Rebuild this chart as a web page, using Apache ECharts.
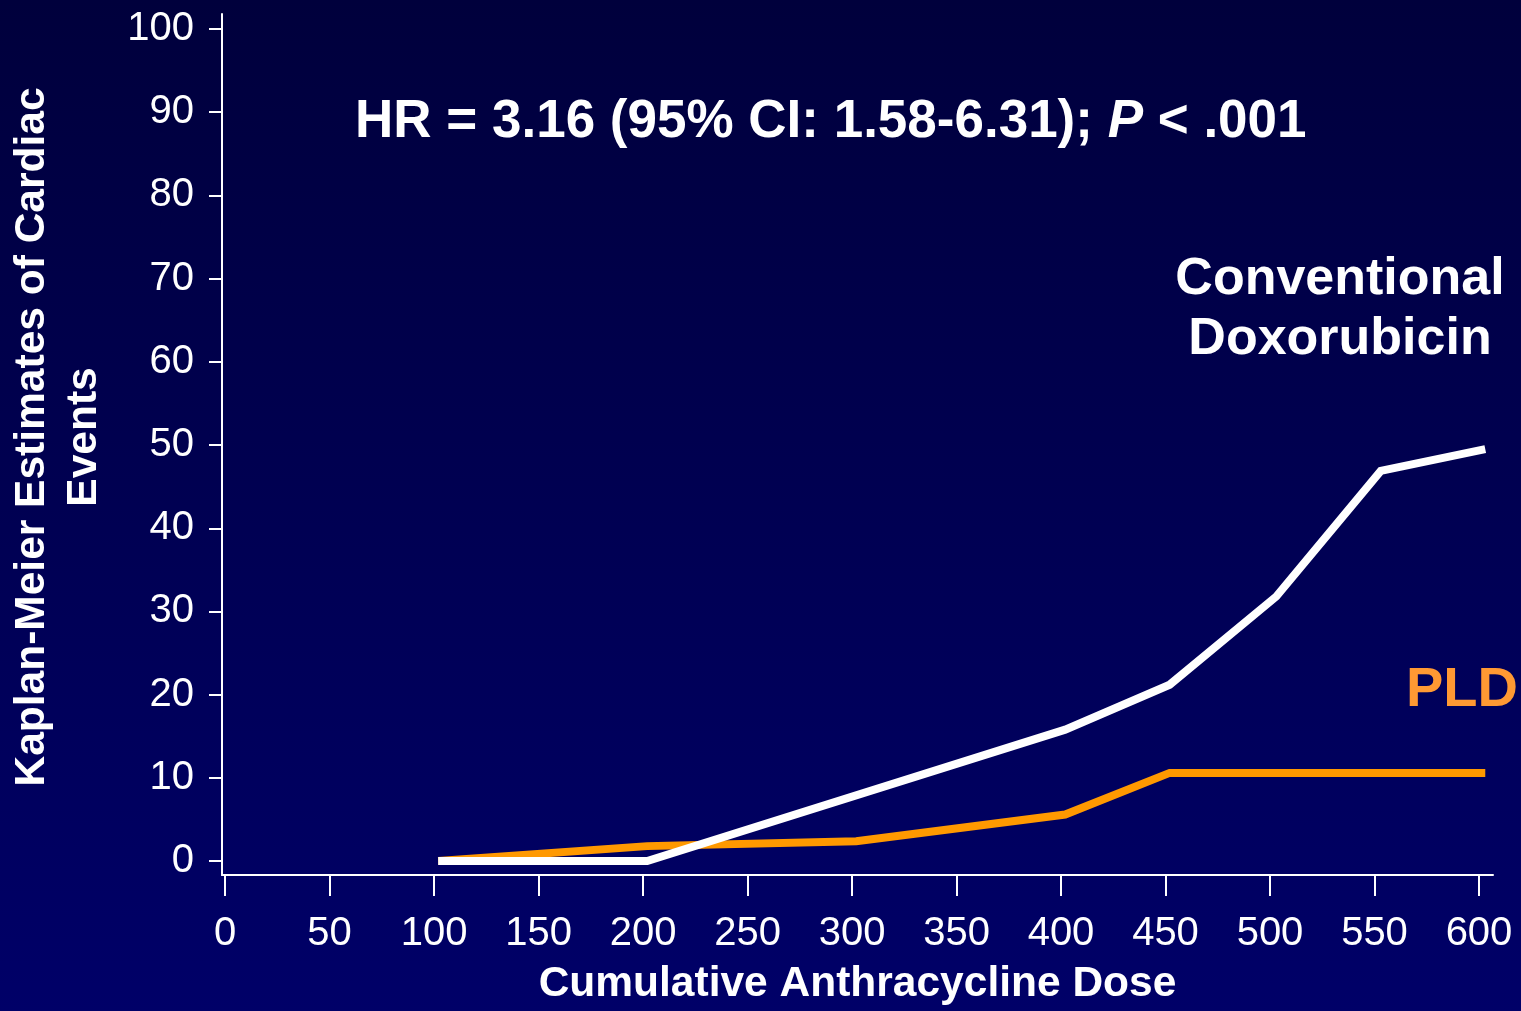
<!DOCTYPE html>
<html>
<head>
<meta charset="utf-8">
<script src="https://cdn.jsdelivr.net/npm/echarts@6/dist/echarts.min.js"></script>
<style>
html,body{margin:0;padding:0;width:1521px;height:1011px;overflow:hidden;}
#chart{width:1521px;height:1011px;}
</style>
</head>
<body>
<div id="chart"></div>
<script>
// Data
const xTicks = [0, 50, 100, 150, 200, 250, 300, 350, 400, 450, 500, 550, 600];
const yTicks = [0, 10, 20, 30, 40, 50, 60, 70, 80, 90, 100];
const doxDose = [102, 202, 402, 452, 503, 553, 603];
const doxValue = [0, 0, 15.8, 21.2, 31.8, 46.9, 49.5];
const pldDose = [102, 202, 302, 402, 452, 603];
const pldValue = [0, 1.8, 2.4, 5.6, 10.6, 10.6];
const seriesNames = ['PLD', 'Conventional Doxorubicin'];
const titleText = ['HR = 3.16 (95% CI: 1.58-6.31); ', 'P', ' < .001'];
const xName = 'Cumulative Anthracycline Dose';
const yName = 'Kaplan-Meier Estimates of Cardiac\nEvents';

const FONT = 'Arial, "Liberation Sans", sans-serif';
const chart = echarts.init(document.getElementById('chart'), null, {renderer: 'canvas'});

const zip = (a, b) => a.map((v, i) => [v, b[i]]);

chart.setOption({
  animation: false,
  backgroundColor: {
    type: 'linear', x: 0, y: 0, x2: 0, y2: 1,
    colorStops: [{offset: 0, color: '#00003c'}, {offset: 1, color: '#000068'}]
  },
  textStyle: {fontFamily: FONT},
  title: {
    left: 355, top: 92, padding: 0,
    text: '{a|' + titleText[0] + '}{b|' + titleText[1] + '}{a|' + titleText[2] + '}',
    textStyle: {
      rich: {
        a: {fontSize: 53, fontWeight: 'bold', color: '#ffffff', fontFamily: FONT, lineHeight: 60},
        b: {fontSize: 53, fontWeight: 'bold', fontStyle: 'italic', color: '#ffffff', fontFamily: FONT, lineHeight: 60}
      }
    }
  },
  grid: {left: 222, top: 14, right: 28, bottom: 132, containLabel: false},
  xAxis: {
    type: 'value', min: -1.44, max: 606.7,
    name: xName, nameLocation: 'middle', nameGap: 88,
    nameTextStyle: {color: '#ffffff', fontSize: 42.5, fontWeight: 'bold', fontFamily: FONT, lineHeight: 43},
    axisLine: {show: true, onZero: false, lineStyle: {color: '#ffffff', width: 2}},
    axisTick: {show: true, inside: false, length: 21, customValues: xTicks, lineStyle: {color: '#ffffff', width: 2}},
    axisLabel: {customValues: xTicks, color: '#ffffff', fontSize: 40, fontFamily: FONT, margin: 39},
    splitLine: {show: false}
  },
  yAxis: {
    type: 'value', min: -1.67, max: 101.8,
    axisLine: {show: true, onZero: false, lineStyle: {color: '#ffffff', width: 2}},
    axisTick: {show: true, inside: false, length: 13, customValues: yTicks, lineStyle: {color: '#ffffff', width: 2}},
    axisLabel: {customValues: yTicks, color: '#ffffff', fontSize: 40, fontFamily: FONT, margin: 28},
    splitLine: {show: false}
  },
  graphic: [
    {
      type: 'text', x: 58, y: 437, rotation: Math.PI / 2,
      style: {text: yName, fill: '#ffffff', font: 'bold 42.5px ' + FONT, textAlign: 'center', textVerticalAlign: 'middle', lineHeight: 52}
    },
    {
      type: 'text', x: 1340, y: 310,
      style: {text: 'Conventional\nDoxorubicin', fill: '#ffffff', font: 'bold 52px ' + FONT, textAlign: 'center', textVerticalAlign: 'middle', lineHeight: 60}
    },
    {
      type: 'text', x: 1462, y: 691,
      style: {text: 'PLD', fill: '#ff9933', font: 'bold 56px ' + FONT, textAlign: 'center', textVerticalAlign: 'middle'}
    }
  ],
  series: [
    {
      name: seriesNames[0], type: 'line', data: zip(pldDose, pldValue),
      symbol: 'none', lineStyle: {color: '#ff9900', width: 8, cap: 'butt', join: 'miter'}, z: 2
    },
    {
      name: seriesNames[1], type: 'line', data: zip(doxDose, doxValue),
      symbol: 'none', lineStyle: {color: '#ffffff', width: 8, cap: 'butt', join: 'miter'}, z: 3
    }
  ]
});
</script>
</body>
</html>
